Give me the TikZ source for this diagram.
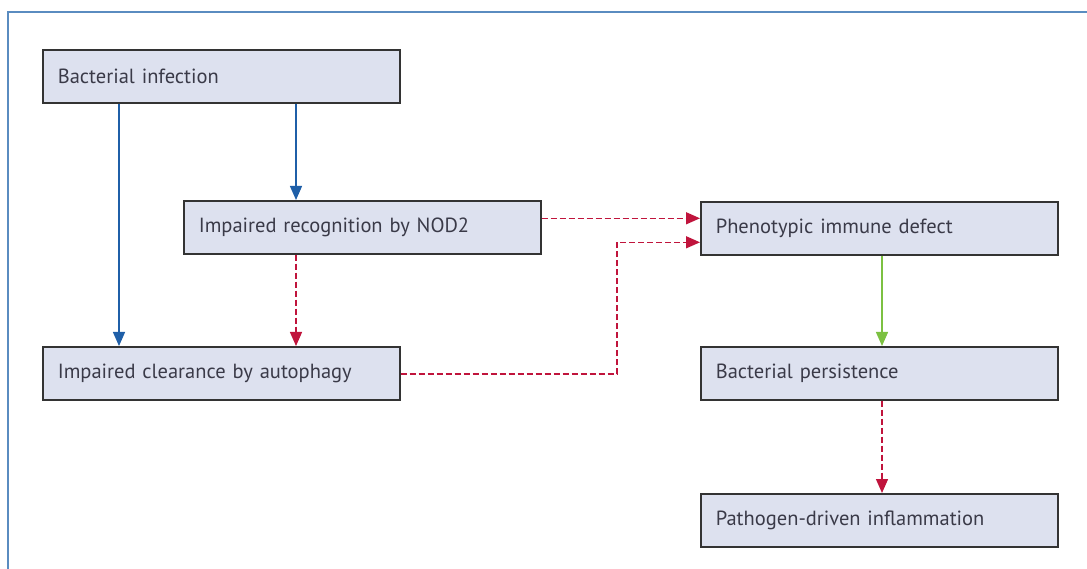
\documentclass[tikz,border=0pt]{standalone}
\usepackage{fontspec}
\setmainfont{PT Sans}
\usetikzlibrary{arrows.meta}
\definecolor{boxfill}{HTML}{DDE1EF}
\definecolor{boxline}{HTML}{333333}
\definecolor{txt}{HTML}{3A3A48}
\definecolor{ablue}{HTML}{1F5FA8}
\definecolor{ared}{HTML}{C0143C}
\definecolor{agreen}{HTML}{7CC142}
\definecolor{frame}{HTML}{5A8CC0}
\begin{document}
\begin{tikzpicture}[x=1pt,y=-1pt,
  box/.style={draw=boxline,line width=1.6pt,fill=boxfill,minimum width=357pt,minimum height=53pt,
    inner sep=0pt,anchor=north west,text=txt,font=\fontsize{20.5}{24}\selectfont,
    align=left,text width=327pt},
  solidarr/.style={line width=1.4pt,-{Triangle[length=14pt,width=12pt]}},
  dasharr/.style={line width=1.4pt,draw=ared,dash pattern=on 6pt off 3pt,
    -{Triangle[length=14pt,width=12pt,fill=ared]}}]
\useasboundingbox (0,0) rectangle (1087,569);
\fill[white] (0,0) rectangle (1087,569);
\draw[frame,line width=2pt] (8,569) -- (8,12) -- (1087,12);
\node[box] (bi) at (42,49) {Bacterial infection};
\node[box] (nod) at (183,200) {Impaired recognition by NOD2};
\node[box] (ac) at (42,346) {Impaired clearance by autophagy};
\node[box] (pid) at (700,201) {Phenotypic immune defect};
\node[box] (bp) at (700,346) {Bacterial persistence};
\node[box] (pdi) at (700,493) {Pathogen-driven inflammation};
\coordinate (turn) at (617,0);
\coordinate (b1) at (119,0);
\coordinate (b2) at (296,0);
\coordinate (g1) at (882,0);
\draw[solidarr,ablue] (b1 |- bi.south) -- (b1 |- ac.north);
\draw[solidarr,ablue] (b2 |- bi.south) -- (b2 |- nod.north);
\draw[dasharr] (b2 |- nod.south) -- (b2 |- ac.north);
\draw[dasharr] ([yshift=9pt]nod.east) -- ([yshift=9pt]nod.east -| pid.west);
\draw[dasharr] ([yshift=-0.5pt]ac.east) -- ([yshift=-0.5pt]ac.east -| turn) -- ([yshift=-14pt]pid.west -| turn) -- ([yshift=-14pt]pid.west);
\draw[solidarr,agreen] (g1 |- pid.south) -- (g1 |- bp.north);
\draw[dasharr] (g1 |- bp.south) -- (g1 |- pdi.north);
\end{tikzpicture}
\end{document}
